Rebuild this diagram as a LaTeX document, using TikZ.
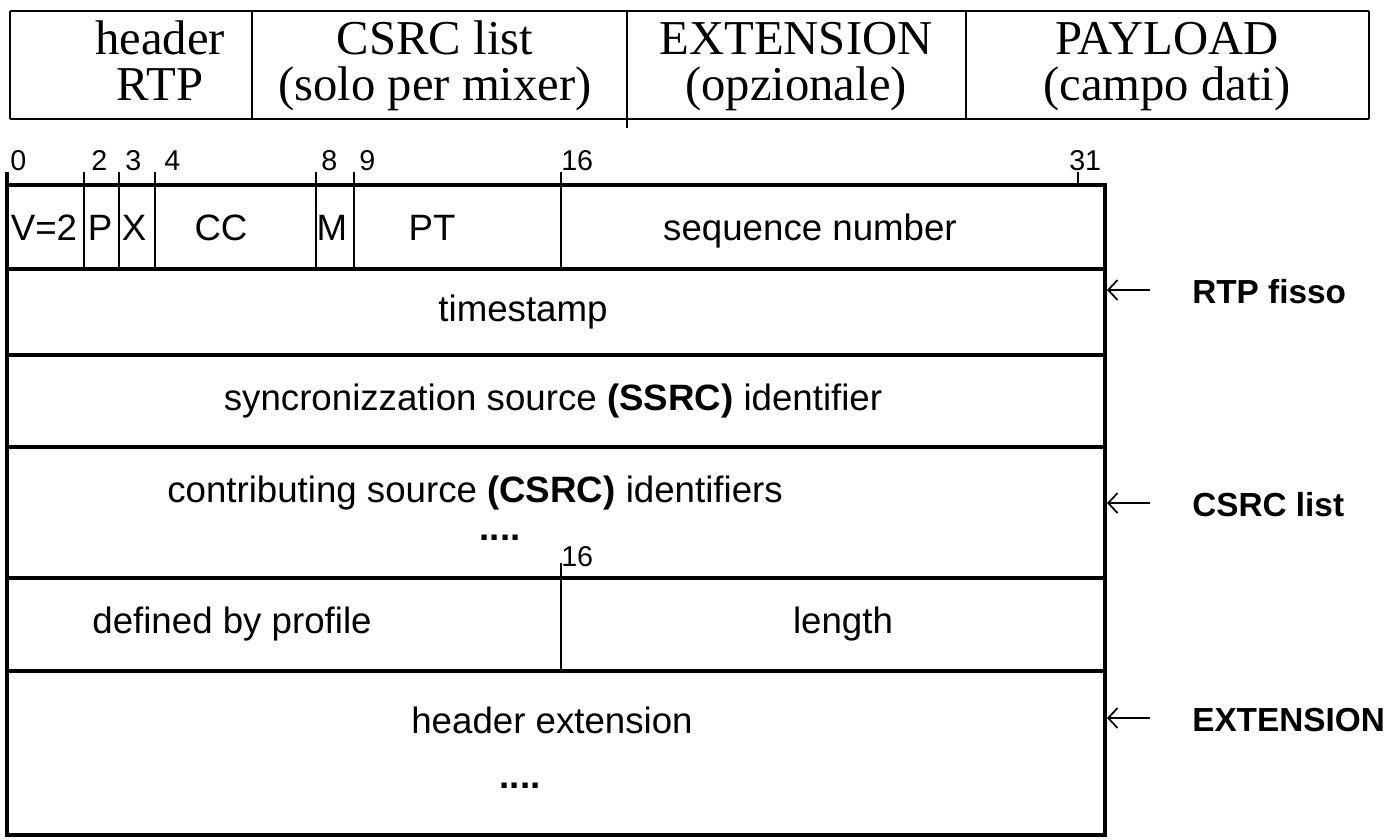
\documentclass[tikz,border=0pt]{standalone}
\usepackage{fontspec}
\setmainfont{Liberation Serif}
\setsansfont{Liberation Sans}
\usetikzlibrary{arrows.meta}
\begin{document}
\begin{tikzpicture}[x=0.75pt,y=-0.75pt,
  head/.style={font=\rmfamily\fontsize{36.5}{42}\selectfont, inner sep=0pt, anchor=base},
  cell/.style={font=\sffamily\fontsize{27.5}{30}\selectfont, inner sep=0pt},
  firstword/.style={cell, anchor=base},
  bitno/.style={font=\sffamily\fontsize{21.5}{24}\selectfont, inner sep=0pt, anchor=base west},
  tag/.style={font=\sffamily\bfseries\fontsize{25}{28}\selectfont, inner sep=0pt, anchor=west},
  frame/.style={line width=3pt},
  rowline/.style={line width=2.3pt},
  fieldsep/.style={line width=1.5pt},
  tablerule/.style={line width=2.2pt},
  tablesep/.style={line width=1.2pt},
  pointer/.style={line width=1.3pt, -{Straight Barb[length=7pt,width=15pt]}}
]
\useasboundingbox (0,0) rectangle (1399,839);

% ---------- packet layout table ----------
\draw[tablerule] (10,11) -- (1369,11);
\draw[tablerule] (10,119) -- (1369,119);
\draw[tablesep] (10,11) -- (10,119);
\draw[tablesep] (252,11) -- (252,119);
\draw[tablesep] (627,11) -- (627,128);
\draw[tablesep] (966,11) -- (966,119);
\draw[tablerule] (1369,11) -- (1369,119);

\node[head] (hdrA) at (160,54) {header};
\node[head] (hdrB) at (160,100) {RTP};
\node[head] (csrcA) at (435,54) {CSRC list};
\node[head] (csrcB) at (435,100) {(solo per mixer)};
\node[head] (extA) at (796,54) {EXTENSION};
\node[head] (extB) at (796,100) {(opzionale)};
\node[head] (payA) at (1167,54) {PAYLOAD};
\node[head] (payB) at (1167,100) {(campo dati)};

% ---------- RTP header words ----------
\draw[frame] (7,185) rectangle (1105,835);
\draw[frame] (7,172) -- (7,185);
\foreach \y in {269,355,447,578,671}
  \draw[rowline] (7,\y) -- (1105,\y);
\foreach \x in {84,119,155,316,354,561}
  \draw[fieldsep] (\x,172) -- (\x,269);
\draw[fieldsep] (1078,172) -- (1078,185);
\draw[fieldsep] (561,563) -- (561,671);

% bit positions
\node[bitno] (b0) at (10,170) {0};
\node[bitno] (b2) at (91,170) {2};
\node[bitno] (b3) at (125,170) {3};
\node[bitno] (b4) at (164,170) {4};
\node[bitno] (b8) at (321,170) {8};
\node[bitno] (b9) at (359,170) {9};
\node[bitno] (b16) at (561,170) {16};
\node[bitno] (b31) at (1069,170) {31};
\node[bitno] (c16) at (561,566) {16};

% first word: all fields share one baseline
\node[firstword] (ver) at (44,240) {V=2};
\node[firstword] (pad) at (100,240) {P};
\node[firstword] (ext) at (134,240) {X};
\node[firstword] (cc) at (221,240) {CC};
\node[firstword] (mrk) at (332,240) {M};
\node[firstword] (pt) at (432,240) {PT};
\node[firstword] (seq) at (810,240) {sequence number};

% remaining words
\node[cell] (ts) at (523,312) {timestamp};
\node[cell] (ssrc) at (553,401) {syncronizzation source \textbf{(SSRC)} identifier};
\node[cell] (csrc) at (475,493) {contributing source \textbf{(CSRC)} identifiers};
\node[cell] (csrcdots) at (500,538) {\textbf{....}};
\node[cell] (prof) at (232,624) {defined by profile};
\node[cell] (len) at (843,624) {length};
\node[cell] (hext) at (552,720) {header extension};
\node[cell] (hextdots) at (520,786) {\textbf{....}};

% section markers on the right
\coordinate (fixEdge) at (1107,290);
\coordinate (csrcEdge) at (1107,503);
\coordinate (extEdge) at (1107,718);
\node[tag] (tFix) at (1192,292) {RTP fisso};
\node[tag] (tCsrc) at (1192,505) {CSRC list};
\node[tag] (tExt) at (1192,720) {EXTENSION};
\draw[pointer] (1150,290) -- (fixEdge);
\draw[pointer] (1150,503) -- (csrcEdge);
\draw[pointer] (1150,718) -- (extEdge);
\end{tikzpicture}
\end{document}
